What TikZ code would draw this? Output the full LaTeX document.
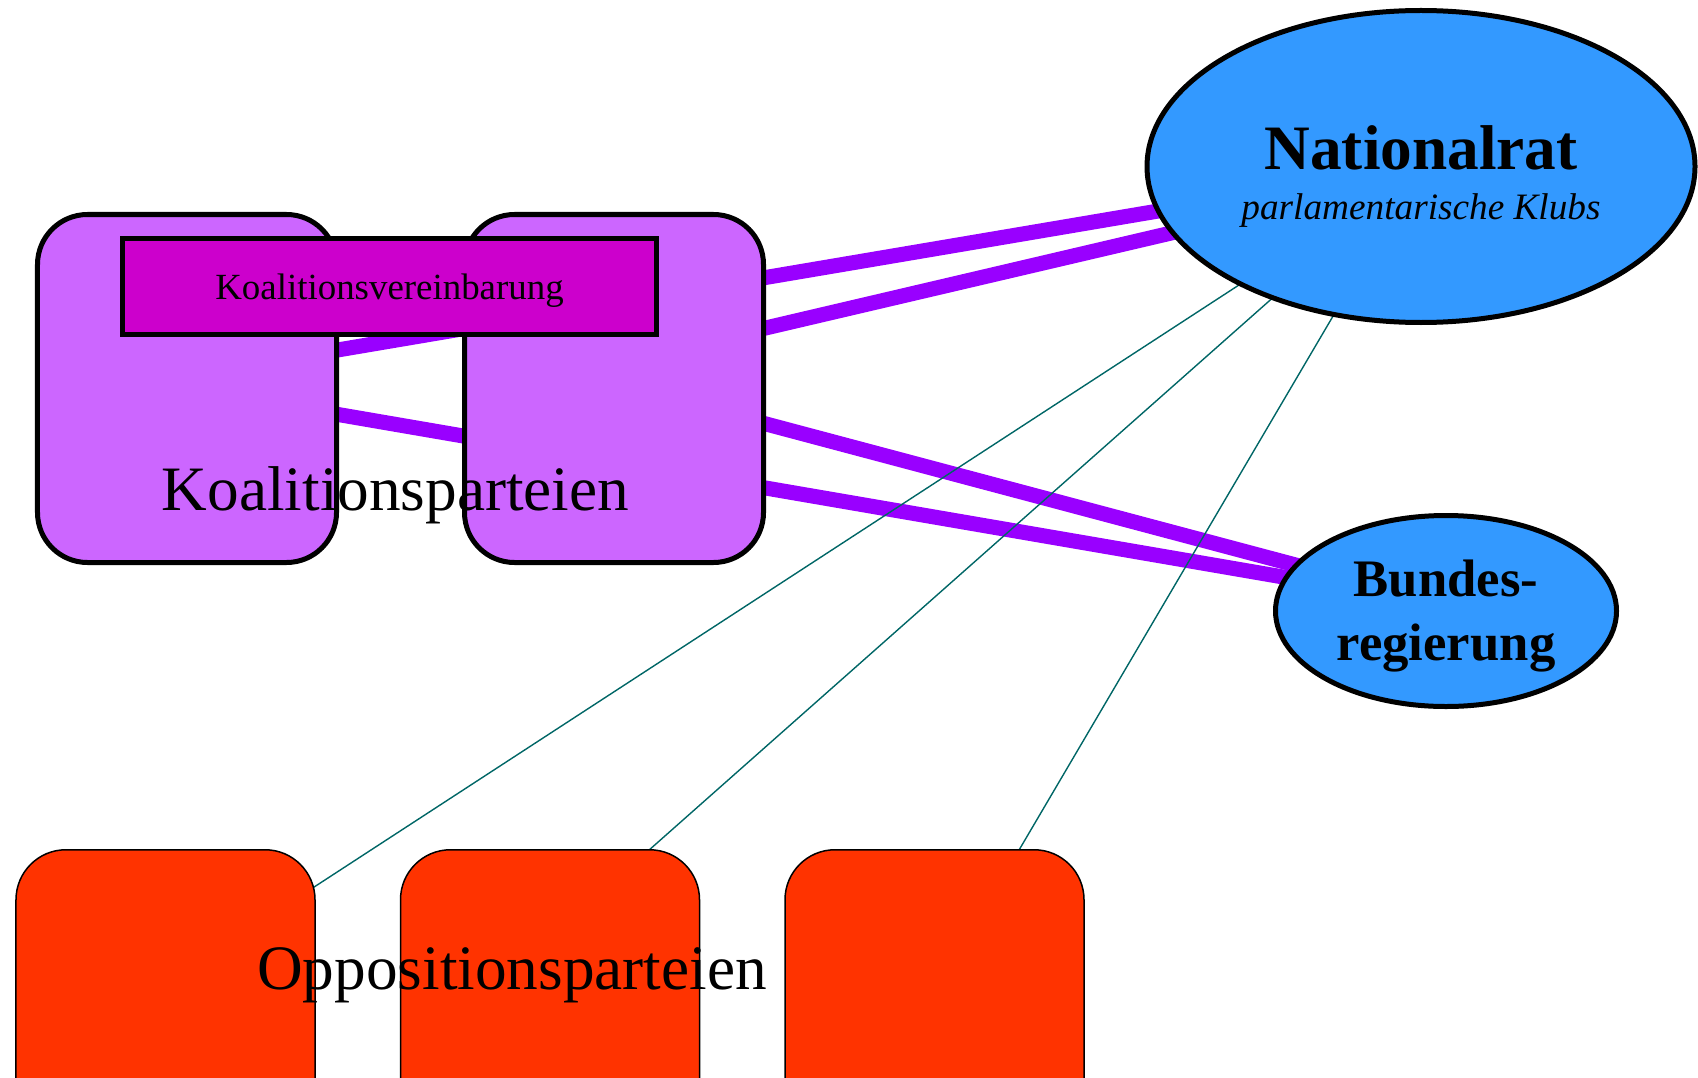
\documentclass[tikz,border=0pt]{standalone}
\usepackage{fontspec}
\setmainfont{Liberation Serif}
\usepackage{xcolor}
\usepackage{tikz}
\usetikzlibrary{shapes,positioning,backgrounds}
\definecolor{koalfill}{HTML}{CC66FF}
\definecolor{vertragfill}{HTML}{CC00CC}
\definecolor{koalline}{HTML}{9900FF}
\definecolor{organfill}{HTML}{3399FF}
\definecolor{oppfill}{HTML}{FF3300}
\definecolor{oppline}{HTML}{006666}
\tikzstyle{partei} = [rectangle, draw, line width=0.05cm, fill=koalfill,
    rounded corners=0.5cm, minimum width=2.99cm, minimum height=3.48cm, inner sep=0pt]
\tikzstyle{opp} = [partei, line width=0.015cm, fill=oppfill]
\tikzstyle{vertrag} = [rectangle, draw, line width=0.05cm, fill=vertragfill, text height=9.8pt,
    minimum width=5.34cm, minimum height=0.96cm, font=\fontsize{10.5}{12}\selectfont]
\tikzstyle{organ} = [ellipse, draw, line width=0.05cm, fill=organfill, inner sep=0pt, align=center]
\tikzstyle{gruppe} = [font=\fontsize{18}{21}\selectfont, inner sep=0pt]
\tikzstyle{koal} = [draw=koalline, line width=0.15cm]
\tikzstyle{kontrolle} = [draw=oppline, line width=0.014cm]

\begin{document}
\begin{tikzpicture}[node distance=0.84cm]
    \useasboundingbox (0,0) rectangle (16.98,-10.77);
    \clip (0,0) rectangle (16.98,-10.77);
    % Nodes
    \node [partei] (kl) at (1.87,-3.885) {};
    \node [partei, right=1.23cm of kl] (kr) {};
    \node [vertrag] (kv) at (3.895,-2.865) {Koalitionsvereinbarung};
    \node [gruppe, anchor=base] (kt) at (3.955,-5.10) {Koalitionsparteien};
    \node [organ, minimum width=5.48cm, minimum height=3.12cm, text height=32.5pt,
        font=\fontsize{18}{14.2}\selectfont] (nr) at (14.21,-1.665)
        {{\bfseries Nationalrat}\\{\fontsize{10.6}{14.2}\selectfont\itshape parlamentarische Klubs}};
    \node [organ, minimum width=3.41cm, minimum height=1.91cm, text height=31.2pt,
        font=\fontsize{15}{18}\selectfont\bfseries] (br) at (14.46,-6.11) {Bundes-\\regierung};
    \node [opp] (o1) at (1.655,-10.2375) {};
    \node [opp, right=of o1] (o2) {};
    \node [opp, right=of o2] (o3) {};
    \node [gruppe, anchor=base] (ot) at (5.12,-9.89) {Oppositionsparteien};

    % Edges
    \begin{pgfonlayer}{background}
        \path [koal] ([yshift=0.13cm]kl.center) -- (nr.center);
        \path [koal] ([yshift=0.25cm]kr.center) -- ([yshift=-0.08cm]nr.center);
        \path [koal] (kl.center) -- ([yshift=0.06cm]br.center);
        \path [koal] ([yshift=0.05cm]kr.center) -- ([yshift=0.06cm]br.center);
        \path [kontrolle] ([yshift=0.4cm]o1.center) -- (nr.center);
        \path [kontrolle] ([yshift=0.86cm]o2.center) -- (nr.center);
        \path [kontrolle] ([yshift=0.3cm]o3.center) -- (nr.center);
    \end{pgfonlayer}
\end{tikzpicture}
\end{document}
